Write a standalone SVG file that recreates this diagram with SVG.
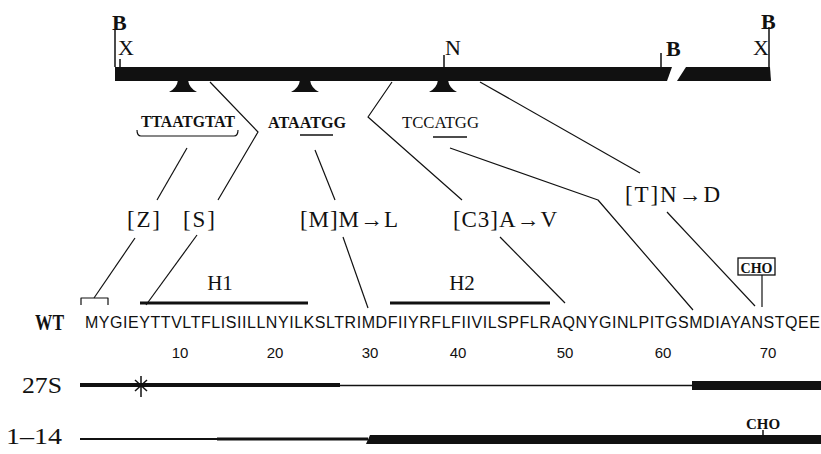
<svg xmlns="http://www.w3.org/2000/svg" width="821" height="454" viewBox="0 0 821 454">
<style>
 .ln{stroke:#111;stroke-width:1.2;fill:none;stroke-linejoin:round}
 .tk{stroke:#111;stroke-width:1.5;fill:none}
 .sf{font-family:"Liberation Serif","DejaVu Serif",serif;fill:#111}
 .ss{font-family:"Liberation Sans","DejaVu Sans",sans-serif;fill:#111}
 .b{font-weight:bold}
 .mut{font-size:23px}
 .site{font-size:22px}
 .num{font-family:"Liberation Sans","DejaVu Sans",sans-serif;font-size:15px;fill:#111;text-anchor:middle}
</style>
<defs>
 <path id="tri" d="M-5,80 Q-6,88 -14,92 H14 Q6,88 5,80 Z" fill="#111"/>
</defs>
<rect width="821" height="454" fill="#fff"/>

<g id="gene-map">
 <path d="M115,67 H672 L667,81 H115 Z" fill="#111"/>
 <path d="M686,67 H770 L771,81 H677 Z" fill="#111"/>
 <use href="#tri" x="183"/>
 <use href="#tri" x="305"/>
 <use href="#tri" x="443"/>
 <path class="tk" d="M115,30 V67 M120,59 V67 M444,55 V67 M661,53 V67 M769,27 V67"/>
 <text class="sf b site" x="112" y="30">B</text>
 <text class="sf site" x="118" y="55">X</text>
 <text class="sf site" x="445" y="55">N</text>
 <text class="sf b site" x="666" y="56">B</text>
 <text class="sf b site" x="761" y="29">B</text>
 <text class="sf site" x="753" y="55">X</text>
</g>

<g id="site-TTAATGTAT">
 <text class="sf b" font-size="16" x="141" y="127" textLength="94" lengthAdjust="spacingAndGlyphs">TTAATGTAT</text>
 <path class="ln" d="M137,130 Q137,136 141,136 H234 Q238,136 238,130"/>
</g>
<g id="site-ATAATGG">
 <text class="sf b" font-size="16" x="268" y="128" textLength="78" lengthAdjust="spacingAndGlyphs">ATAATGG</text>
 <path class="tk" d="M300,135 H333"/>
</g>
<g id="site-TCCATGG">
 <text class="sf" font-size="17" x="402" y="128" textLength="77" lengthAdjust="spacingAndGlyphs">TCCATGG</text>
 <path class="tk" d="M433,137 H467"/>
</g>

<g id="mut-Z"><text class="sf mut" x="127" y="227" textLength="33">[Z]</text></g>
<g id="mut-S"><text class="sf mut" x="183" y="227" textLength="32">[S]</text></g>
<g id="mut-M"><text class="sf mut" x="300" y="227" textLength="98">[M]M→L</text></g>
<g id="mut-C3"><text class="sf mut" x="453" y="227" textLength="104">[C3]A→V</text></g>
<g id="mut-T"><text class="sf mut" x="625" y="202" textLength="95">[T]N→D</text></g>

<g id="helix-H1">
 <text class="sf" font-size="21" x="220" y="290" text-anchor="middle">H1</text>
 <path d="M140,303 H308" stroke="#111" stroke-width="3"/>
</g>
<g id="helix-H2">
 <text class="sf" font-size="21" x="462" y="290" text-anchor="middle">H2</text>
 <path d="M390,303 H550" stroke="#111" stroke-width="3"/>
</g>

<g id="cho-site">
 <rect x="738" y="258" width="37" height="17" fill="#fff" stroke="#111" stroke-width="1.3"/>
 <text class="sf b" font-size="15" x="756.5" y="272.5" text-anchor="middle" textLength="32" lengthAdjust="spacingAndGlyphs">CHO</text>
</g>

<g id="wt-sequence">
 <text class="sf b" font-size="24" x="35" y="330" textLength="29" lengthAdjust="spacingAndGlyphs">WT</text>
 <text class="ss" font-size="16" x="85" y="328" textLength="735" lengthAdjust="spacing">MYGIEYTTVLTFLISIILLNYILKSLTRIMDFIIYRFLFIIVILSPFLRAQNYGINLPITGSMDIAYANSTQEE</text>
 <text class="num" y="358"><tspan x="180">10</tspan><tspan x="275">20</tspan><tspan x="370">30</tspan><tspan x="458">40</tspan><tspan x="565">50</tspan><tspan x="663">60</tspan><tspan x="768">70</tspan></text>
</g>

<g id="construct-27S">
 <text class="sf" font-size="24" x="22" y="393" textLength="40" lengthAdjust="spacingAndGlyphs">27S</text>
 <path d="M80,385 H340" stroke="#111" stroke-width="4"/>
 <path d="M340,385.5 H692" stroke="#111" stroke-width="1.6"/>
 <path d="M692,385.5 H821" stroke="#111" stroke-width="9"/>
 <path d="M141,376 V397 M135,380 L147,391 M147,380 L135,391" stroke="#111" stroke-width="1.5"/>
</g>

<g id="construct-1-14">
 <text class="sf" font-size="23" x="6" y="444" textLength="56" lengthAdjust="spacingAndGlyphs">1–14</text>
 <path d="M80,439 H217" stroke="#111" stroke-width="2"/>
 <path d="M217,439 H368" stroke="#111" stroke-width="3"/>
 <path d="M366,444 L370,435 H821 V444 Z" fill="#111"/>
 <text class="sf b" font-size="15" x="763" y="429" text-anchor="middle">CHO</text>
 <path class="tk" d="M763,430 V436"/>
</g>

<g id="connectors">
 <path class="ln" d="M187,148 L157,200"/>
 <path class="ln" d="M135,238 L94,298"/>
 <path class="ln" d="M81,305 V298 H108 V305"/>
 <path class="ln" d="M210,82 L258,132 L218,200"/>
 <path class="ln" d="M197,235 L146,305"/>
 <path class="ln" d="M315,150 L335,200"/>
 <path class="ln" d="M343,237 L368,308"/>
 <path class="ln" d="M392,82 L368,117 L462,200"/>
 <path class="ln" d="M500,237 L565,303"/>
 <path class="ln" d="M450,148 L598,200 L693,310"/>
 <path class="ln" d="M480,82 L640,173"/>
 <path class="ln" d="M667,212 L755,306"/>
 <path class="ln" d="M762,275 V307"/>
</g>
</svg>
